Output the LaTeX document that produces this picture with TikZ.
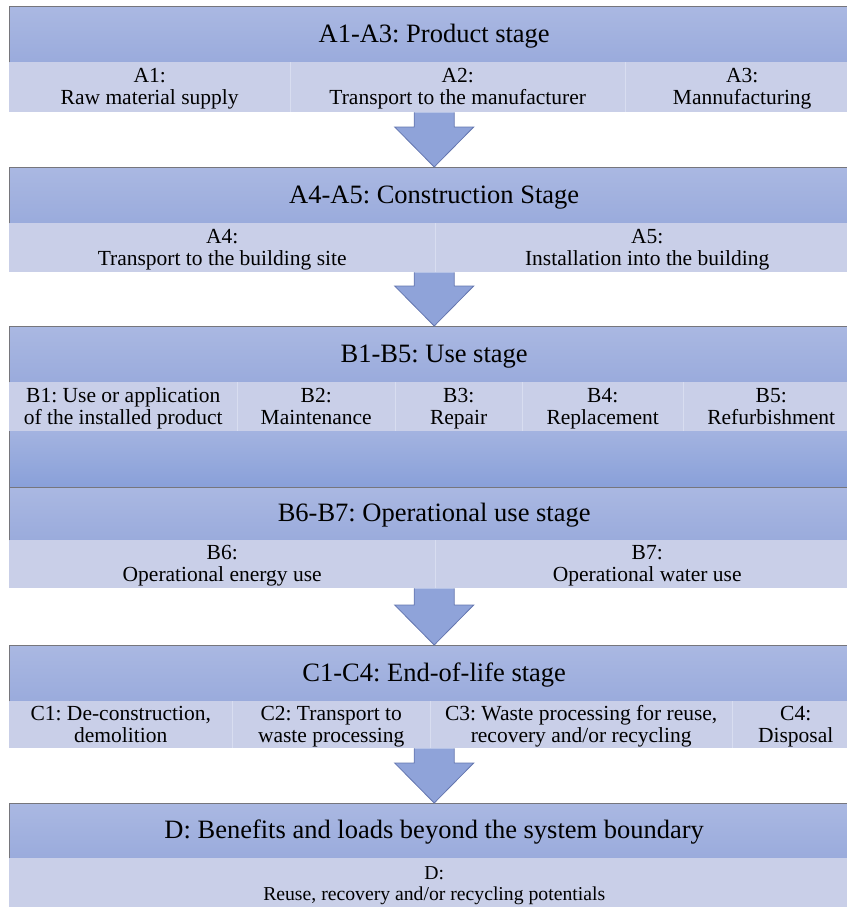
\documentclass[tikz,border=0pt]{standalone}
\usepackage{fontspec}
\setmainfont{Liberation Serif}
\frenchspacing
\usetikzlibrary{calc}

\definecolor{hdrtop}{RGB}{170,184,226}
\definecolor{hdrbot}{RGB}{154,171,220}
\definecolor{cellfill}{RGB}{201,207,232}
\definecolor{cellsep}{RGB}{216,221,240}
\definecolor{bandtop}{RGB}{163,179,224}
\definecolor{bandbot}{RGB}{137,160,217}
\definecolor{rimgray}{RGB}{118,118,124}
\definecolor{arrowfill}{RGB}{143,163,217}
\definecolor{arrowrim}{RGB}{100,118,175}

\tikzset{
  stagehead/.style={anchor=north west, minimum width=850pt, inner sep=0pt,
    text height=22pt, text depth=6pt,
    top color=hdrtop, bottom color=hdrbot, font=\fontsize{26.5}{30}\selectfont},
  % fixed text box height/depth keep every two-line cell on one baseline
  subcell/.style={anchor=north west, inner sep=0pt, fill=cellfill, align=center,
    font=\fontsize{21.5}{22}\selectfont, text height=37pt, text depth=2pt},
  rim/.style={draw=rimgray, line width=1pt},
  divider/.style={draw=cellsep, line width=1pt},
  arrowbody/.style={fill=arrowfill},
  arrowedge/.style={draw=arrowrim, line width=0.8pt, line join=miter},
}

% block arrow from the bottom of one stage (#1) to the header of the next (#2)
\newcommand\stagearrow[2]{%
  \fill[arrowbody] let \p1=(#2.north), \p2=(#1.south) in
    (\x1-20,\y2) -- (\x1+20,\y2) -- (\x1+20,\y1+40) -- (\x1+39.5,\y1+40)
    -- (\x1,\y1) -- (\x1-39.5,\y1+40) -- (\x1-20,\y1+40) -- cycle;
  \draw[arrowedge] let \p1=(#2.north), \p2=(#1.south) in
    (\x1+20,\y2) -- (\x1+20,\y1+40) -- (\x1+39.5,\y1+40)
    -- (\x1,\y1) -- (\x1-39.5,\y1+40) -- (\x1-20,\y1+40) -- (\x1-20,\y2);}

% outline along the top and left side of a header
\newcommand\headrim[1]{%
  \draw[rim] (#1.south west) -- (#1.north west) -- (#1.north east);}

\begin{document}
\begin{tikzpicture}[x=1pt, y=-1pt]
\useasboundingbox (0,0) rectangle (846,907);

% ---------- A1-A3: product stage
\node[stagehead, minimum height=55pt] (hA) at (9,7) {A1-A3: Product stage};
\node[subcell, minimum width=281pt, minimum height=50pt] (a1) at (9,62) {A1:\\Raw material supply};
\node[subcell, minimum width=335pt, minimum height=50pt] (a2) at (290,62) {A2:\\Transport to the manufacturer};
\node[subcell, minimum width=234pt, minimum height=50pt] (a3) at (625,62) {A3:\\Mannufacturing};
\draw[divider] (a1.north east) -- (a1.south east);
\draw[divider] (a2.north east) -- (a2.south east);
\headrim{hA}

% ---------- A4-A5: construction stage
\node[stagehead, minimum height=56pt] (hB) at (9,167) {A4-A5: Construction Stage};
\node[subcell, minimum width=426pt, minimum height=49pt] (a4) at (9,223) {A4:\\Transport to the building site};
\node[subcell, minimum width=424pt, minimum height=49pt] (a5) at (435,223) {A5:\\Installation into the building};
\draw[divider] (a4.north east) -- (a4.south east);
\headrim{hB}

% ---------- B1-B5: use stage
\node[stagehead, minimum height=56pt] (hC) at (9,326) {B1-B5: Use stage};
\node[subcell, minimum width=228pt, minimum height=49pt] (b1) at (9,382) {B1: Use or application\\of the installed product};
\node[subcell, minimum width=158pt, minimum height=49pt] (b2) at (237,382) {B2:\\Maintenance};
\node[subcell, minimum width=127pt, minimum height=49pt] (b3) at (395,382) {B3:\\Repair};
\node[subcell, minimum width=161pt, minimum height=49pt] (b4) at (522,382) {B4:\\Replacement};
\node[subcell, minimum width=176pt, minimum height=49pt] (b5) at (683,382) {B5:\\Refurbishment};
\node[anchor=north west, minimum width=850pt, minimum height=56pt, inner sep=0pt,
      top color=bandtop, bottom color=bandbot] (bandC) at (9,431) {};
\foreach \c in {b1,b2,b3,b4} \draw[divider] (\c.north east) -- (\c.south east);
\headrim{hC}
\draw[rim] (bandC.south west) -- (bandC.north west);

% ---------- B6-B7: operational use stage
\node[stagehead, minimum height=53pt] (hD) at (9,487) {B6-B7: Operational use stage};
\node[subcell, minimum width=426pt, minimum height=48pt] (b6) at (9,540) {B6:\\Operational energy use};
\node[subcell, minimum width=424pt, minimum height=48pt] (b7) at (435,540) {B7:\\Operational water use};
\draw[divider] (b6.north east) -- (b6.south east);
\headrim{hD}

% ---------- C1-C4: end-of-life stage
\node[stagehead, minimum height=56pt] (hE) at (9,645) {C1-C4: End-of-life stage};
\node[subcell, minimum width=223pt, minimum height=47pt] (c1) at (9,701) {C1: De-construction,\\demolition};
\node[subcell, minimum width=198pt, minimum height=47pt] (c2) at (232,701) {C2: Transport to\\waste processing};
\node[subcell, minimum width=302pt, minimum height=47pt] (c3) at (430,701) {C3: Waste processing for reuse,\\recovery and/or recycling};
\node[subcell, minimum width=127pt, minimum height=47pt] (c4) at (732,701) {C4:\\Disposal};
\foreach \c in {c1,c2,c3} \draw[divider] (\c.north east) -- (\c.south east);
\headrim{hE}

% ---------- D: beyond the system boundary
\node[stagehead, minimum height=55pt] (hF) at (9,803) {D: Benefits and loads beyond the system boundary};
\node[subcell, minimum width=850pt, minimum height=49pt, font=\fontsize{19.7}{21}\selectfont] (d1) at (9,858)
  {D:\\Reuse, recovery and/or recycling potentials};
\headrim{hF}

% ---------- flow between stages
\stagearrow{a1}{hB}
\stagearrow{a4}{hC}
\stagearrow{b6}{hE}
\stagearrow{c1}{hF}

\end{tikzpicture}
\end{document}
